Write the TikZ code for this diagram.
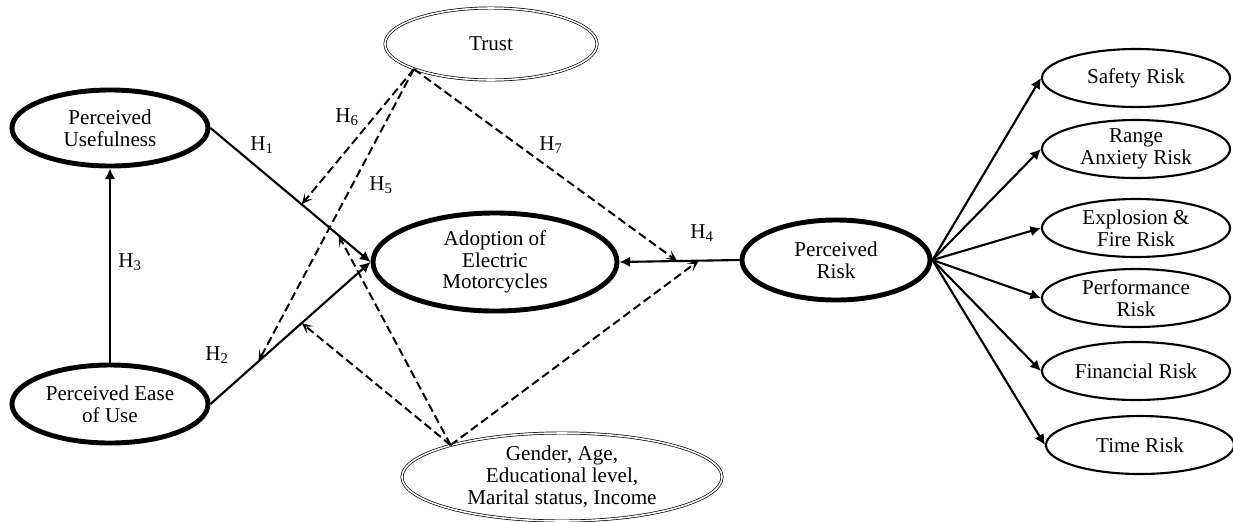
\documentclass[tikz,border=0pt]{standalone}
\usepackage{fontspec}
\setmainfont{Liberation Serif}
\usetikzlibrary{calc,shapes.geometric,arrows.meta}

\tikzset{
  latent/.style={ellipse, draw, line width=3.5pt, inner sep=0pt, align=center},
  control/.style={ellipse, draw, double, double distance=1.1pt, line width=0.5pt, inner sep=0pt, align=center},
  riskdim/.style={ellipse, draw, line width=1.5pt, inner sep=0pt, align=center,
                  minimum width=4.7cm, minimum height=1.45cm},
  effect/.style={line width=1.5pt, -{Latex[length=7.5pt,width=7.5pt]}},
  moderate/.style={line width=1.4pt, dash pattern=on 6pt off 3pt,
                   -{Stealth[length=8pt,width=7pt,inset=4pt]}},
  hyp/.style={inner sep=1pt}
}

\begin{document}
\begin{tikzpicture}[x=0.025cm, y=-0.025cm, font=\fontsize{15}{15.5}\selectfont]
				\useasboundingbox (0,0) rectangle (1233,521);
				
				\node[latent, minimum width=4.9cm, minimum height=1.9cm] (pu) at (110,128) {Perceived\\Usefulness};
				\node[latent, minimum width=4.9cm, minimum height=1.95cm] (peou) at (110,404) {Perceived Ease\\of Use};
				\node[latent, minimum width=6.1cm, minimum height=2.45cm] (adopt) at (495,262) {Adoption of\\Electric\\Motorcycles};
				\node[latent, minimum width=4.7cm, minimum height=2cm] (pr) at (836,260) {Perceived\\Risk};
				\node[control, minimum width=5.3cm, minimum height=1.8cm] (trust) at (491,44) {Trust};
				\node[control, minimum width=8cm, minimum height=2.2cm] (demo) at (562,477) {Gender, Age,\\Educational level,\\Marital status, Income};
				
				\foreach \name/\x/\y/\txt in {safety/1136/78/Safety Risk, range/1136/149/Range\\Anxiety Risk,
					fire/1136/228/Explosion \&\\Fire Risk, perf/1136/298/Performance\\Risk,
					fin/1136/371/Financial Risk, time/1140/445/Time Risk}{
					\node[riskdim] (\name) at (\x,\y) {\txt};
					\draw[effect] (pr.east) -- (\name.west);}
				
				% main paths
				\draw[effect] (peou.north) -- (pu.south);
				\draw[effect] (pu.east) -- (adopt.west);
				\draw[effect] (peou.east) -- (adopt.west);
				\draw[effect] (pr.west) -- (adopt.east);
				
				\coordinate (h1a) at ($(pu.east)!0.57!(adopt.west)$);
				\coordinate (h1b) at ($(pu.east)!0.80!(adopt.west)$);
				\coordinate (h2a) at ($(peou.east)!0.30!(adopt.west)$);
				\coordinate (h2b) at ($(peou.east)!0.57!(adopt.west)$);
				\coordinate (h4a) at ($(pr.west)!0.52!(adopt.east)$);
				\coordinate (h4b) at ($(pr.west)!0.34!(adopt.east)$);
				
				% moderators
				\foreach \x in {h1a,h2a,h4a}{
					\draw[moderate] (trust.198) -- (\x);}
				\foreach \x in {h1b,h2b,h4b}{
					\draw[moderate] (demo.164) -- (\x);}
				
				\node[hyp] (lh1) at (262,145) {H\textsubscript{1}};
				\node[hyp] (lh2) at (217,355) {H\textsubscript{2}};
				\node[hyp] (lh3) at (130,262) {H\textsubscript{3}};
				\node[hyp] (lh4) at (702,233) {H\textsubscript{4}};
				\node[hyp] (lh5) at (381,185) {H\textsubscript{5}};
				\node[hyp] (lh6) at (347,117) {H\textsubscript{6}};
				\node[hyp] (lh7) at (551,145) {H\textsubscript{7}};
			\end{tikzpicture}
\end{document}
